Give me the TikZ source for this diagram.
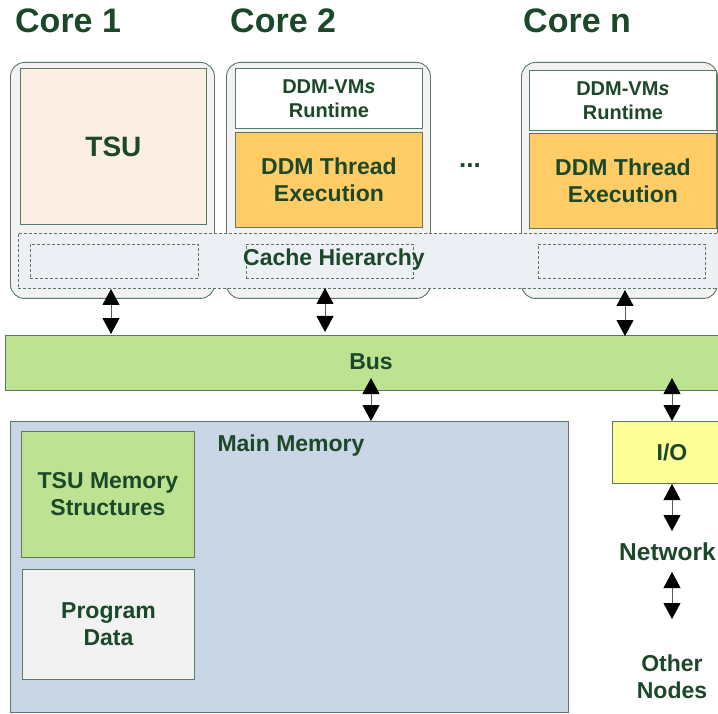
\documentclass[tikz,border=0pt]{standalone}
\usepackage{fontspec}
\setmainfont{Liberation Sans}
\usetikzlibrary{arrows.meta}

\definecolor{txtgreen}{RGB}{28,72,42}
\definecolor{edgegreen}{RGB}{90,120,98}
\definecolor{coregray}{RGB}{242,242,242}
\definecolor{tsupeach}{RGB}{253,238,228}
\definecolor{execorange}{RGB}{255,204,102}
\definecolor{cacheblue}{RGB}{236,240,245}
\definecolor{busgreen}{RGB}{189,226,145}
\definecolor{memblue}{RGB}{201,214,230}
\definecolor{ioyellow}{RGB}{255,255,153}

\newcommand{\bx}[7]{%
  \pgfmathsetmacro\bw{#4-#2}\pgfmathsetmacro\bh{#5-#3}%
  \node[#6, anchor=north west, inner sep=0pt, minimum width=\bw pt, minimum height=\bh pt] (#1) at (#2,#3) {#7};}

\tikzset{
  lbl/.style={text=txtgreen, font=\bfseries\fontsize{23}{27}\selectfont, align=center},
  corebox/.style={draw=edgegreen, fill=coregray, rounded corners=14pt, line width=0.9pt},
  plainbox/.style={draw=edgegreen, line width=0.9pt},
  cachebox/.style={draw=edgegreen, dashed, dash pattern=on 3pt off 2pt, line width=0.8pt},
  title/.style={text=txtgreen, font=\bfseries\fontsize{34}{38}\selectfont, anchor=base west, inner sep=0pt},
  bi/.style={draw=black!65, line width=1pt,
    {Triangle[width=17pt,length=16pt,color=black]}-{Triangle[width=17pt,length=16pt,color=black]}},
}

\begin{document}
\begin{tikzpicture}[x=1pt, y=-1pt]
\useasboundingbox (0,0) rectangle (718,714);
\fill[white] (0,0) rectangle (718,714);
\begin{scope}
\clip (0,0) rectangle (718,714);

% core titles
\node[title] (t1) at (15,33) {Core 1};
\node[title] (t2) at (230,33) {Core 2};
\node[title] (tn) at (523,33) {Core n};

% cores
\bx{core1}{10}{62}{214}{298}{corebox}{}
\bx{core2}{226}{62}{430}{298}{corebox}{}
\bx{coren}{521}{62}{717}{298}{corebox}{}

\bx{tsu}{20}{68}{206}{224}{plainbox, fill=tsupeach, lbl, font=\bfseries\fontsize{28}{32}\selectfont}{TSU}
\bx{rt2}{235}{68}{422}{128}{plainbox, fill=white, lbl, font=\bfseries\fontsize{20}{24}\selectfont}{DDM-VM\textit{s}\\Runtime}
\bx{ex2}{235}{132}{422}{227}{plainbox, fill=execorange, lbl}{DDM Thread\\Execution}
\bx{rtn}{529}{70}{716}{130}{plainbox, fill=white, lbl, font=\bfseries\fontsize{20}{24}\selectfont}{DDM-VM\textit{s}\\Runtime}
\bx{exn}{529}{133}{716}{228}{plainbox, fill=execorange, lbl}{DDM Thread\\Execution}

\node[lbl, font=\bfseries\fontsize{26}{30}\selectfont] (dots) at (470,166) {...};

% cache hierarchy strip
\bx{cache}{18}{233}{730}{288}{cachebox, fill=cacheblue}{}
\bx{c1}{30}{244}{198}{278}{cachebox}{}
\bx{c2}{246}{244}{413}{278}{cachebox}{}
\bx{c3}{538}{244}{705}{278}{cachebox}{}
\node[lbl] (cachelbl) at (334,260) {Cache Hierarchy};

% bus
\bx{bus}{5}{335}{730}{390}{plainbox, fill=busgreen}{}
\node[lbl] (buslbl) at (371,362) {Bus};

% main memory
\bx{mem}{10}{421}{568}{712}{plainbox, fill=memblue}{}
\node[lbl, anchor=west] (memlbl) at (214,446) {Main Memory};
\bx{tsumem}{21}{431}{194}{557}{plainbox, fill=busgreen, lbl}{TSU Memory\\Structures}
\bx{pdata}{22}{569}{194}{679}{plainbox, fill=coregray, lbl}{Program\\Data}

% I/O and beyond
\bx{io}{612}{421}{740}{483}{plainbox, fill=ioyellow}{}
\node[lbl] (iolbl) at (672,452) {I/O};
\node[lbl, anchor=west, inner sep=0pt, font=\bfseries\fontsize{24.5}{28}\selectfont] (net) at (619,552) {Network};
\node[lbl] (other) at (672,677) {Other\\Nodes};

% arrow ends
\coordinate (a1) at (111,289);
\coordinate (a2) at (325,288);
\coordinate (a3) at (625,290);
\coordinate (b1) at (111,334);
\coordinate (b2) at (325,332);
\coordinate (b3) at (625,336);
\coordinate (m1) at (371,378);
\coordinate (m2) at (371,421);
\coordinate (i1) at (672,378);
\coordinate (i2) at (672,421);
\coordinate (n1) at (672,484);
\coordinate (n2) at (672,531);
\coordinate (o1) at (672,572);
\coordinate (o2) at (672,619);

\draw[bi] (a1) -- (b1);
\draw[bi] (a2) -- (b2);
\draw[bi] (a3) -- (b3);
\draw[bi] (m1) -- (m2);
\draw[bi] (i1) -- (i2);
\draw[bi] (n1) -- (n2);
\draw[bi] (o1) -- (o2);
\end{scope}
\end{tikzpicture}
\end{document}
